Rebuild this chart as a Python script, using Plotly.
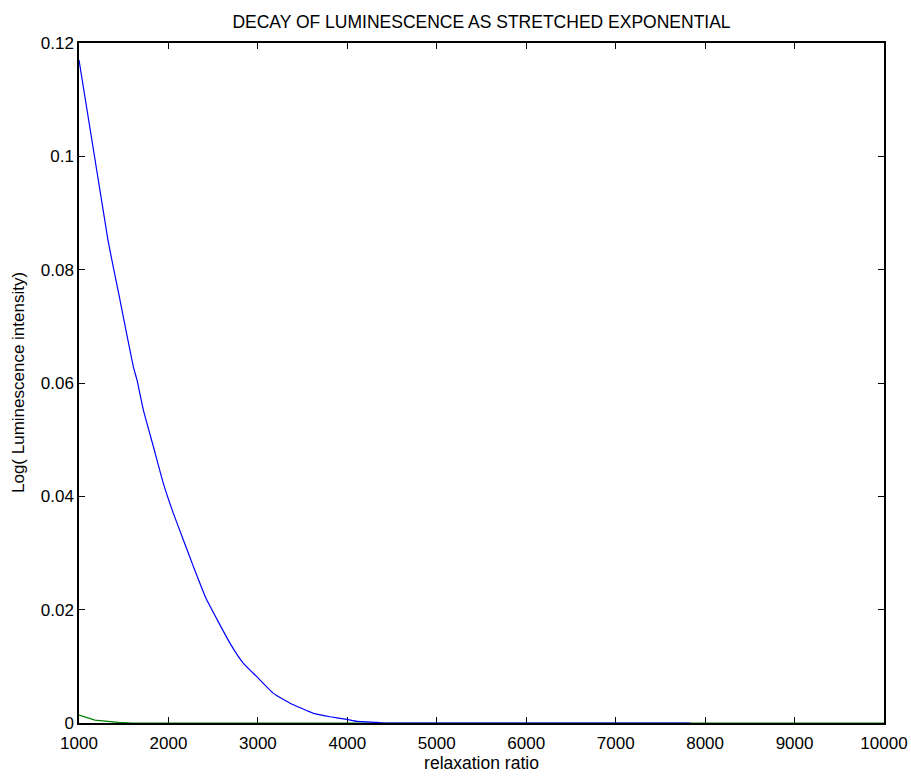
import plotly.graph_objects as go

# Blue series
blue_x = [1000, 1324, 1459, 1607, 1649, 1720, 1831, 1943, 2055, 2167, 2279, 2420,
          2689, 2838, 2988, 3174, 3360, 3472, 3621, 3808, 3994, 4106, 4329, 4400, 7834]
blue_y = [0.117, 0.0852, 0.0746, 0.0629, 0.0605, 0.0552, 0.0488, 0.0423, 0.0370, 0.0323,
          0.0276, 0.0220, 0.01406, 0.01053, 0.00817, 0.00523, 0.00347, 0.0027, 0.0017,
          0.0011, 0.00065, 0.0003, 0.0001, 0.0, 0.0]

# Green series
green_x = [1000, 1179, 1440, 1600, 10000]
green_y = [0.0014, 0.0005, 0.0001, 0.0, 0.0]

x_ticks = [1000, 2000, 3000, 4000, 5000, 6000, 7000, 8000, 9000, 10000]
y_ticks = [0, 0.02, 0.04, 0.06, 0.08, 0.1, 0.12]
y_tick_text = ["0", "0.02", "0.04", "0.06", "0.08", "0.1", "0.12"]

title_text = "DECAY OF LUMINESCENCE AS STRETCHED EXPONENTIAL"
x_title = "relaxation ratio"
y_title = "Log( Luminescence intensity)"

fig = go.Figure()
fig.add_trace(go.Scatter(x=green_x, y=green_y, mode="lines",
                         line=dict(color="#008000", width=1.2), hoverinfo="skip"))
fig.add_trace(go.Scatter(x=blue_x, y=blue_y, mode="lines",
                         line=dict(color="#0000ff", width=1.2, shape="spline", smoothing=0.4),
                         hoverinfo="skip"))

fam = "Liberation Sans, Arial, sans-serif"
font = dict(family=fam, size=17, color="black")

fig.update_layout(
    width=911, height=776,
    margin=dict(l=79, r=27, t=43, b=53, autoexpand=False),
    paper_bgcolor="white", plot_bgcolor="white",
    showlegend=False,
    font=font,
    title=dict(text=title_text, xref="paper", x=0.5, xanchor="center", y=0.972, yanchor="middle",
               font=dict(family=fam, size=17.5, color="black")),
    xaxis=dict(range=[1000, 10000], tickvals=x_ticks, ticktext=[str(v) for v in x_ticks],
               automargin=False,
               showgrid=False, zeroline=False, showline=True, linecolor="black", linewidth=1.5,
               mirror="ticks", ticks="inside", ticklen=6, tickcolor="black",
               tickfont=dict(size=17), layer="below traces", ticklabelstandoff=4,
               title=dict(text=x_title, font=dict(size=17.5), standoff=2)),
    yaxis=dict(range=[0, 0.12], tickvals=y_ticks, ticktext=y_tick_text,
               automargin=False,
               showgrid=False, zeroline=False, showline=True, linecolor="black", linewidth=1.5,
               mirror="ticks", ticks="inside", ticklen=6, tickcolor="black",
               tickfont=dict(size=17), layer="below traces"),
    annotations=[dict(text=y_title, xref="paper", yref="paper",
                      x=(18 - 79) / 805, y=0.5, xanchor="center", yanchor="middle",
                      textangle=-90, showarrow=False, font=dict(family=fam, size=17))],
)

fig.write_html("out.html")
